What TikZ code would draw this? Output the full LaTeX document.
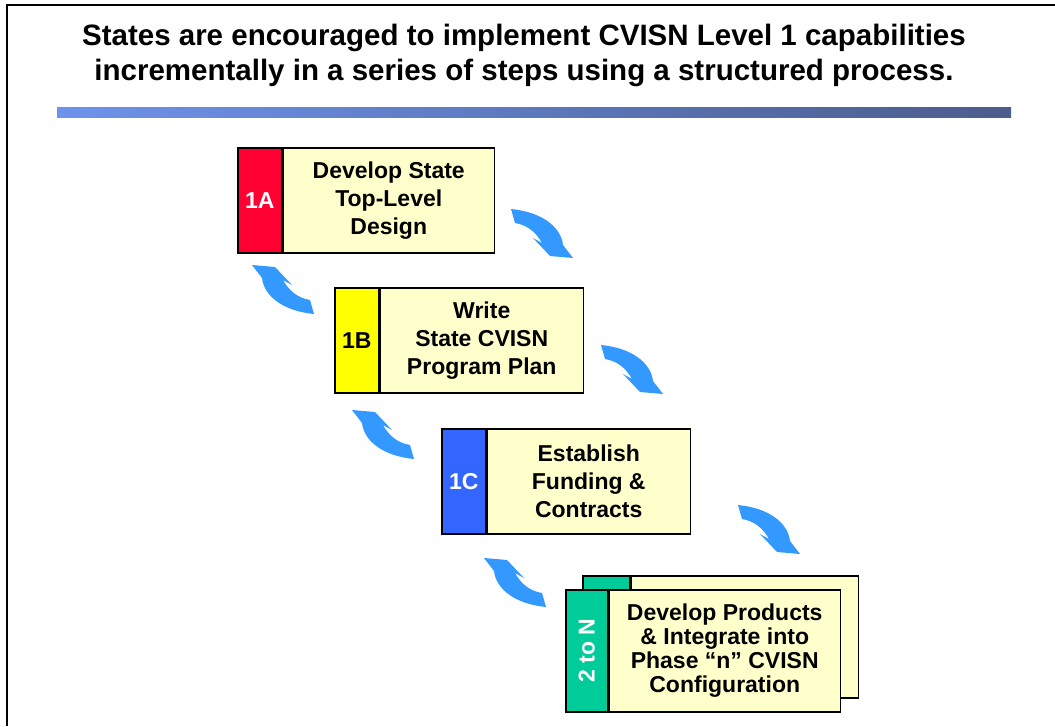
\documentclass[tikz,border=0pt]{standalone}
\usepackage{fontspec}
\setmainfont{Liberation Sans}
\usetikzlibrary{positioning}
\usepackage{xcolor}
\definecolor{tabred}{HTML}{FF0033}
\definecolor{tabyellow}{HTML}{FFFF00}
\definecolor{tabblue}{HTML}{3366FF}
\definecolor{tabgreen}{HTML}{00CC99}
\definecolor{cream}{HTML}{FFFFCC}
\definecolor{turnblue}{HTML}{3399FF}
\definecolor{bandl}{HTML}{6E93EC}
\definecolor{bandr}{HTML}{4C5C8C}

\begin{document}
\begin{tikzpicture}[x=1pt, y=-1pt, node distance=0pt]
	\tikzstyle{tab} = [draw=black, line width=1.5pt, minimum width=44pt, minimum height=105pt, inner sep=0pt, font=\fontsize{23}{27}\selectfont\bfseries]
	\tikzstyle{body} = [draw=black, line width=1.5pt, fill=cream, minimum width=203pt, minimum height=105pt, inner sep=0pt, align=center, font=\fontsize{23}{28}\selectfont\bfseries]
	\tikzset{turn/.pic={
		\fill[turnblue] (-31,-24) .. controls (0,-21) and (19,-6) .. (21,12)
			-- (31,25) -- (8,23) -- (-9,5) -- (0,10)
			.. controls (-6,-1) and (-15,-8) .. (-27,-10) -- cycle;
	}}
	
	\useasboundingbox (0,0) rectangle (1055,726);
	\draw[line width=2pt] (7,726) -- (7,5) -- (1055,5);
	
	\node[align=center, font=\fontsize{29.5}{35}\selectfont\bfseries] (title) at (524,55)
		{States are encouraged to implement CVISN Level 1 capabilities\\incrementally in a series of steps using a structured process.};
	\shade[left color=bandl, right color=bandr] (57,107) rectangle (1011,117);
	
	% steps
	\node[tab, fill=tabred, text=white, anchor=north west]	at (237,147)	(t1a)	{1A};
	\node[body, minimum width=211pt, right=of t1a]				(b1a)	{Develop State\\Top-Level\\Design};
	\node[tab, fill=tabyellow, anchor=north west]				at (334,287)	(t1b)	{1B};
	\node[body, right=of t1b]									(b1b)	{Write\\State CVISN\\Program Plan};
	\node[tab, fill=tabblue, text=white, anchor=north west]	at (441,428)	(t1c)	{1C};
	\node[body, right=of t1c]									(b1c)	{Establish\\Funding \&\\Contracts};
	
	% stacked last step
	\node[tab, fill=tabgreen, minimum width=47pt, minimum height=122pt, anchor=north west] at (582,575) (t2back) {};
	\node[body, minimum width=227pt, minimum height=122pt, right=of t2back] (b2back) {};
	\node[tab, fill=tabgreen, text=white, minimum width=42pt, minimum height=122pt, anchor=north west] at (565,589) (t2n) {\rotatebox{90}{2 to N}};
	\node[body, minimum width=231pt, minimum height=122pt, font=\fontsize{23}{24}\selectfont\bfseries, right=of t2n] (b2n) {Develop Products\\\& Integrate into\\Phase “n” CVISN\\Configuration};
	
	% turn arrows
	\pic at (542,233) {turn};
	\pic at (632,369) {turn};
	\pic at (769,529) {turn};
	\pic[rotate=180] at (283,290) {turn};
	\pic[rotate=180] at (383,435) {turn};
	\pic[rotate=180] at (515,583) {turn};
\end{tikzpicture}
\end{document}
